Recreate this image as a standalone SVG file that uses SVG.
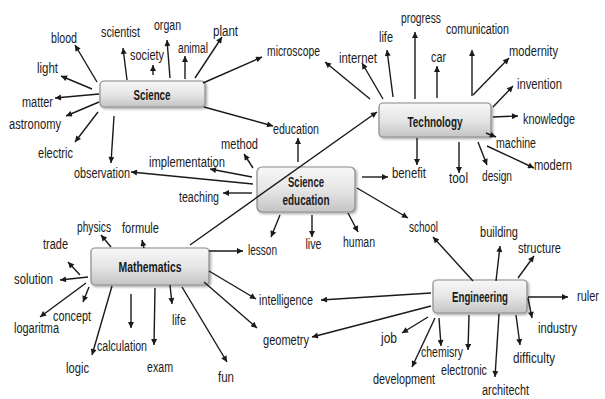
<svg xmlns="http://www.w3.org/2000/svg" width="605" height="399" viewBox="0 0 605 399">
<style>
text{font-family:"Liberation Sans",Arial,sans-serif;fill:#1a1a1a;text-anchor:middle}
.l{font-size:14px}
.b{font-size:15px;font-weight:bold}
.box{fill:url(#g);stroke:#8a8a8a;stroke-width:1.2;filter:url(#sh)}
.c line{stroke:#1a1a1a;stroke-width:1.4;marker-end:url(#a)}
</style>
<defs>
<linearGradient id="g" x1="0" y1="0" x2="0" y2="1"><stop offset="0" stop-color="#f7f7f7"/><stop offset="0.5" stop-color="#e6e6e6"/><stop offset="1" stop-color="#c4c4c4"/></linearGradient>
<filter id="sh" x="-10%" y="-20%" width="130%" height="150%"><feDropShadow dx="1.5" dy="1.5" stdDeviation="1.2" flood-color="#000" flood-opacity="0.35"/></filter>
<marker id="a" viewBox="0 0 10 10" refX="10" refY="5" markerWidth="7" markerHeight="6" markerUnits="userSpaceOnUse" orient="auto"><path d="M0,0L10,5L0,10z" fill="#1a1a1a"/></marker>
</defs>
<rect width="605" height="399" fill="#fff"/>
<g id="science"><rect class="box" x="100" y="81" width="105" height="26" rx="4"/><text class="b" x="152" y="99.5" textLength="37" lengthAdjust="spacingAndGlyphs">Science</text></g>
<g id="technology"><rect class="box" x="379" y="103" width="112" height="34" rx="4"/><text class="b" x="435" y="127" textLength="55" lengthAdjust="spacingAndGlyphs">Technology</text></g>
<g id="science-education"><rect class="box" x="257" y="167" width="98" height="45" rx="5"/><text class="b" x="306" y="187" textLength="36" lengthAdjust="spacingAndGlyphs">Science</text><text class="b" x="306" y="205" textLength="47" lengthAdjust="spacingAndGlyphs">education</text></g>
<g id="mathematics"><rect class="box" x="91" y="248" width="118" height="37" rx="4"/><text class="b" x="150" y="272" textLength="63" lengthAdjust="spacingAndGlyphs">Mathematics</text></g>
<g id="engineering"><rect class="box" x="433" y="280" width="94" height="33" rx="4"/><text class="b" x="480" y="302" textLength="56" lengthAdjust="spacingAndGlyphs">Engineering</text></g>
<g id="labels" class="l">
<text x="64" y="43" textLength="26" lengthAdjust="spacingAndGlyphs">blood</text><text x="120.5" y="37" textLength="39" lengthAdjust="spacingAndGlyphs">scientist</text><text x="167.5" y="30" textLength="27" lengthAdjust="spacingAndGlyphs">organ</text><text x="147" y="60" textLength="34" lengthAdjust="spacingAndGlyphs">society</text><text x="193" y="53" textLength="30" lengthAdjust="spacingAndGlyphs">animal</text><text x="225.5" y="36" textLength="25" lengthAdjust="spacingAndGlyphs">plant</text>
<text x="47.5" y="73" textLength="21" lengthAdjust="spacingAndGlyphs">light</text><text x="37.5" y="107" textLength="31" lengthAdjust="spacingAndGlyphs">matter</text><text x="35" y="129" textLength="52" lengthAdjust="spacingAndGlyphs">astronomy</text><text x="55.5" y="158" textLength="35" lengthAdjust="spacingAndGlyphs">electric</text><text x="102" y="178" textLength="56" lengthAdjust="spacingAndGlyphs">observation</text>
<text x="187" y="167" textLength="76" lengthAdjust="spacingAndGlyphs">implementation</text><text x="239.5" y="149" textLength="37" lengthAdjust="spacingAndGlyphs">method</text><text x="293.5" y="56" textLength="53" lengthAdjust="spacingAndGlyphs">microscope</text><text x="296" y="134" textLength="46" lengthAdjust="spacingAndGlyphs">education</text><text x="199" y="202" textLength="40" lengthAdjust="spacingAndGlyphs">teaching</text>
<text x="421" y="23" textLength="40" lengthAdjust="spacingAndGlyphs">progress</text><text x="477.5" y="34" textLength="63" lengthAdjust="spacingAndGlyphs">comunication</text><text x="386" y="42" textLength="14" lengthAdjust="spacingAndGlyphs">life</text><text x="358" y="63" textLength="38" lengthAdjust="spacingAndGlyphs">internet</text><text x="438.5" y="62" textLength="15" lengthAdjust="spacingAndGlyphs">car</text>
<text x="533.5" y="56" textLength="49" lengthAdjust="spacingAndGlyphs">modernity</text><text x="539.5" y="89" textLength="45" lengthAdjust="spacingAndGlyphs">invention</text><text x="549" y="124" textLength="52" lengthAdjust="spacingAndGlyphs">knowledge</text><text x="516" y="148" textLength="40" lengthAdjust="spacingAndGlyphs">machine</text><text x="553" y="170" textLength="38" lengthAdjust="spacingAndGlyphs">modern</text>
<text x="409" y="178" textLength="34" lengthAdjust="spacingAndGlyphs">benefit</text><text x="458.5" y="183" textLength="19" lengthAdjust="spacingAndGlyphs">tool</text><text x="497" y="181" textLength="30" lengthAdjust="spacingAndGlyphs">design</text>
<text x="94" y="232" textLength="34" lengthAdjust="spacingAndGlyphs">physics</text><text x="140.5" y="233" textLength="37" lengthAdjust="spacingAndGlyphs">formule</text><text x="55.5" y="249" textLength="25" lengthAdjust="spacingAndGlyphs">trade</text><text x="33.5" y="284" textLength="39" lengthAdjust="spacingAndGlyphs">solution</text><text x="72" y="321" textLength="38" lengthAdjust="spacingAndGlyphs">concept</text><text x="36.5" y="333" textLength="45" lengthAdjust="spacingAndGlyphs">logaritma</text>
<text x="122" y="351" textLength="50" lengthAdjust="spacingAndGlyphs">calculation</text><text x="77.5" y="373" textLength="23" lengthAdjust="spacingAndGlyphs">logic</text><text x="160" y="372" textLength="26" lengthAdjust="spacingAndGlyphs">exam</text><text x="179" y="325" textLength="14" lengthAdjust="spacingAndGlyphs">life</text><text x="226" y="382" textLength="16" lengthAdjust="spacingAndGlyphs">fun</text>
<text x="262.5" y="255" textLength="29" lengthAdjust="spacingAndGlyphs">lesson</text><text x="286" y="305" textLength="54" lengthAdjust="spacingAndGlyphs">intelligence</text><text x="286" y="345" textLength="46" lengthAdjust="spacingAndGlyphs">geometry</text><text x="313.5" y="249" textLength="16" lengthAdjust="spacingAndGlyphs">live</text><text x="359" y="247" textLength="32" lengthAdjust="spacingAndGlyphs">human</text>
<text x="423.5" y="232" textLength="29" lengthAdjust="spacingAndGlyphs">school</text><text x="499" y="237" textLength="38" lengthAdjust="spacingAndGlyphs">building</text><text x="539.5" y="253" textLength="43" lengthAdjust="spacingAndGlyphs">structure</text><text x="588" y="301" textLength="22" lengthAdjust="spacingAndGlyphs">ruler</text><text x="557.5" y="333" textLength="39" lengthAdjust="spacingAndGlyphs">industry</text><text x="534" y="363" textLength="42" lengthAdjust="spacingAndGlyphs">difficulty</text>
<text x="389" y="343" textLength="16" lengthAdjust="spacingAndGlyphs">job</text><text x="442" y="357" textLength="42" lengthAdjust="spacingAndGlyphs">chemisry</text><text x="464" y="375" textLength="46" lengthAdjust="spacingAndGlyphs">electronic</text><text x="404" y="384" textLength="62" lengthAdjust="spacingAndGlyphs">development</text><text x="505.5" y="395" textLength="47" lengthAdjust="spacingAndGlyphs">architecht</text>
</g>
<g id="connectors" class="c">
<line x1="97" y1="82" x2="75" y2="45"/><line x1="92" y1="89" x2="61" y2="76"/><line x1="99" y1="94" x2="55" y2="98"/><line x1="99" y1="102" x2="66" y2="116"/><line x1="98" y1="112" x2="75" y2="142"/>
<line x1="114" y1="116" x2="111" y2="163"/><line x1="127" y1="80" x2="123" y2="48"/><line x1="153" y1="75" x2="153" y2="65"/><line x1="170" y1="78" x2="167" y2="40"/><line x1="185" y1="79" x2="185" y2="56"/>
<line x1="195" y1="78" x2="222" y2="37"/><line x1="203" y1="83" x2="262" y2="57"/><line x1="204" y1="107" x2="273" y2="126"/>
<line x1="298" y1="162" x2="298" y2="138"/><line x1="253" y1="168" x2="244" y2="154"/><line x1="252" y1="177" x2="210" y2="169"/><line x1="253" y1="184" x2="131" y2="172"/><line x1="252" y1="193" x2="223" y2="193"/>
<line x1="362" y1="177" x2="388" y2="177"/><line x1="357" y1="188" x2="408" y2="218"/><line x1="280" y1="215" x2="271" y2="237"/><line x1="312" y1="215" x2="312" y2="237"/><line x1="348" y1="213" x2="358" y2="232"/>
<line x1="370" y1="99" x2="325" y2="62"/><line x1="383" y1="99" x2="362" y2="63"/><line x1="393" y1="97" x2="387" y2="50"/><line x1="415" y1="99" x2="415" y2="32"/><line x1="437" y1="98" x2="437" y2="66"/>
<line x1="472" y1="96" x2="472" y2="50"/><line x1="473" y1="95" x2="509" y2="58"/><line x1="493" y1="107" x2="513" y2="86"/><line x1="493" y1="117" x2="518" y2="116"/><line x1="486" y1="133" x2="496" y2="137"/>
<line x1="487" y1="146" x2="534" y2="168"/><line x1="478" y1="142" x2="487" y2="165"/><line x1="459" y1="142" x2="459" y2="173"/><line x1="417" y1="138" x2="417" y2="165"/>
<line x1="190" y1="245" x2="377" y2="112"/>
<line x1="111" y1="247" x2="101" y2="235"/><line x1="144" y1="248" x2="142" y2="240"/><line x1="80" y1="275" x2="68" y2="262"/><line x1="88" y1="277" x2="60" y2="280"/><line x1="89" y1="287" x2="83" y2="302"/>
<line x1="86" y1="283" x2="40" y2="317"/><line x1="112" y1="286" x2="92" y2="355"/><line x1="131" y1="294" x2="131" y2="328"/><line x1="155" y1="288" x2="154" y2="345"/><line x1="170" y1="285" x2="172" y2="304"/>
<line x1="182" y1="287" x2="227" y2="362"/><line x1="204" y1="282" x2="257" y2="328"/><line x1="209" y1="271" x2="256" y2="299"/><line x1="209" y1="251" x2="243" y2="251"/>
<line x1="473" y1="281" x2="433" y2="237"/><line x1="496" y1="281" x2="500" y2="246"/><line x1="518" y1="278" x2="534" y2="256"/><line x1="528" y1="297" x2="568" y2="297"/><line x1="528" y1="298" x2="532" y2="318"/>
<line x1="516" y1="315" x2="520" y2="345"/><line x1="499" y1="314" x2="495" y2="377"/><line x1="469" y1="315" x2="468" y2="350"/><line x1="439" y1="318" x2="441" y2="346"/><line x1="435" y1="318" x2="412" y2="367"/>
<line x1="428" y1="317" x2="402" y2="333"/><line x1="431" y1="293" x2="321" y2="300"/><line x1="431" y1="306" x2="312" y2="337"/>
</g>
</svg>
